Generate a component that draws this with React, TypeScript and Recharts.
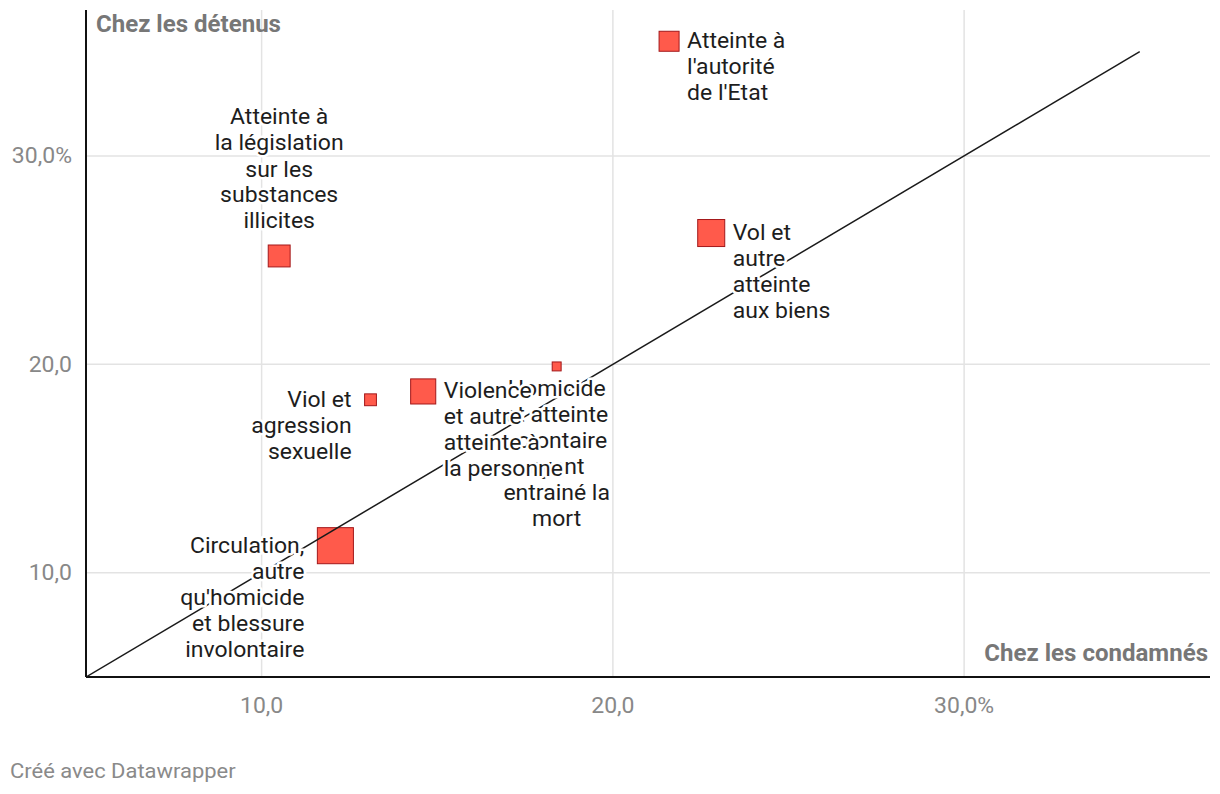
import {
  CartesianGrid,
  Scatter,
  ScatterChart,
  XAxis,
  YAxis,
  ZAxis,
} from "recharts";

// share of each offence, among convicted people (x) and among detainees (y), in %
const categories = [
  "Atteinte à l'autorité de l'Etat",
  "Atteinte à la législation sur les substances illicites",
  "Vol et autre atteinte aux biens",
  "Homicide et atteinte volontaire ayant entrainé la mort",
  "Viol et agression sexuelle",
  "Violence et autre atteinte à la personne",
  "Circulation, autre qu'homicide et blessure involontaire",
];
const condamnes = [21.6, 10.5, 22.8, 18.4, 13.1, 14.6, 12.1];
const detenus = [35.5, 25.2, 26.3, 19.9, 18.3, 18.7, 11.3];
const poids = [4.0, 4.8, 7.3, 0.8, 1.4, 6.3, 13.0];

const diagonal = [5, 35];
const ticks = [10, 20, 30];

// how each label is wrapped and where it sits next to its square
const labelLayout: Record<string, { side: "left" | "right" | "top" | "bottom"; lines: string[] }> = {
  [categories[0]]: { side: "right", lines: ["Atteinte à", "l'autorité", "de l'Etat"] },
  [categories[1]]: {
    side: "top",
    lines: ["Atteinte à", "la législation", "sur les", "substances", "illicites"],
  },
  [categories[2]]: { side: "right", lines: ["Vol et", "autre", "atteinte", "aux biens"] },
  [categories[3]]: {
    side: "bottom",
    lines: ["Homicide", "et atteinte", "volontaire", "ayant", "entrainé la", "mort"],
  },
  [categories[4]]: { side: "left", lines: ["Viol et", "agression", "sexuelle"] },
  [categories[5]]: { side: "right", lines: ["Violence", "et autre", "atteinte à", "la personne"] },
  [categories[6]]: {
    side: "left",
    lines: ["Circulation,", "autre", "qu'homicide", "et blessure", "involontaire"],
  },
};

const points = categories.map((name, i) => ({
  name,
  x: condamnes[i],
  y: detenus[i],
  z: poids[i],
}));
const diagonalPoints = diagonal.map((v) => ({ x: v, y: v }));

const FONT = "Roboto, 'Noto Sans', sans-serif";
const LINE_H = 26;
const LABEL_SIZE = 22;
const STRETCH = 1.045; // text in the original is set slightly wide

const stretchAt = (x: number) => `translate(${x},0) scale(${STRETCH},1) translate(${-x},0)`;

const formatTick = (v: number) => (v === 30 ? "30,0%" : `${v},0`);

const sideOf = (size?: number) => Math.sqrt(size && size > 0 ? size : 64);

const SquareShape = (props: any) => {
  const { cx, cy, size } = props;
  const s = sideOf(size);
  return (
    <rect
      x={cx - s / 2}
      y={cy - s / 2}
      width={s}
      height={s}
      fill="#ff5a4b"
      stroke="#a3181a"
      strokeWidth={1}
    />
  );
};

const LabelShape = (props: any) => {
  const { cx, cy, size, payload } = props;
  const layout = labelLayout[payload.name];
  if (!layout) return <g />;
  const half = sideOf(size) / 2;
  const n = layout.lines.length;
  let x = cx;
  let y0 = cy + 7;
  let anchor: "start" | "end" | "middle" = "middle";
  if (layout.side === "right") {
    x = cx + half + 8;
    anchor = "start";
  } else if (layout.side === "left") {
    x = cx - half - 13;
    anchor = "end";
  } else if (layout.side === "top") {
    y0 = cy - half - 16.5 - (n - 1) * LINE_H;
  } else {
    y0 = cy + half + 25.5;
  }
  return (
    <text
      textAnchor={anchor}
      transform={stretchAt(x)}
      fontFamily={FONT}
      fontSize={LABEL_SIZE}
      fill="#1d1d1d"
      stroke="#fff"
      strokeWidth={5}
      strokeLinejoin="round"
      paintOrder="stroke"
    >
      {layout.lines.map((line, i) => (
        <tspan key={i} x={x} y={y0 + i * LINE_H}>
          {line}
        </tspan>
      ))}
    </text>
  );
};

const AxisTick = (props: any) => {
  const { x, y, payload, textAnchor, orientation } = props;
  return (
    <text
      x={x}
      y={y}
      dy={orientation === "bottom" ? "0.71em" : "0.34em"}
      textAnchor={textAnchor}
      transform={stretchAt(x)}
      fill="#888"
      fontSize={22}
      fontFamily={FONT}
    >
      {formatTick(payload.value)}
    </text>
  );
};

const titleStyle = {
  position: "absolute" as const,
  fontSize: 23,
  lineHeight: "23px",
  fontWeight: 700,
  color: "#777",
  whiteSpace: "nowrap" as const,
  transform: `scaleX(${STRETCH})`,
};

export default function App() {
  return (
    <div
      style={{
        position: "absolute",
        left: 0,
        top: 0,
        width: 1220,
        height: 794,
        background: "#fff",
        fontFamily: FONT,
      }}
    >
      <ScatterChart width={1220} height={740} margin={{ top: 10, right: 10, bottom: 13, left: 0 }}>
        <CartesianGrid stroke="#e3e3e3" strokeWidth={1.5} horizontalValues={ticks} verticalValues={ticks} />
        <XAxis
          type="number"
          dataKey="x"
          domain={[5, 37]}
          ticks={ticks}
          allowDataOverflow
          tickLine={false}
          tickMargin={14}
          height={50}
          axisLine={{ stroke: "#111", strokeWidth: 2 }}
          tick={<AxisTick orientation="bottom" />}
        />
        <YAxis
          type="number"
          dataKey="y"
          domain={[5, 37]}
          ticks={ticks}
          allowDataOverflow
          tickLine={false}
          tickMargin={8}
          width={86}
          axisLine={{ stroke: "#111", strokeWidth: 2 }}
          tick={<AxisTick orientation="left" />}
        />
        <ZAxis type="number" dataKey="z" domain={[0, 13]} range={[0, 1300]} />
        <Scatter data={points} shape={SquareShape} isAnimationActive={false} />
        <Scatter
          data={diagonalPoints}
          line={{ stroke: "#1a1a1a", strokeWidth: 1.5 }}
          shape={() => <g />}
          isAnimationActive={false}
        />
        <Scatter data={points} shape={LabelShape} isAnimationActive={false} />
      </ScatterChart>
      <div style={{ ...titleStyle, left: 96, top: 13, transformOrigin: "left" }}>Chez les détenus</div>
      <div style={{ ...titleStyle, right: 12, top: 642, transformOrigin: "right" }}>
        Chez les condamnés
      </div>
      <div
        style={{
          position: "absolute",
          left: 10,
          top: 761,
          fontSize: 21,
          lineHeight: "21px",
          color: "#8a8a8a",
          whiteSpace: "nowrap",
          transform: `scaleX(${STRETCH})`,
          transformOrigin: "left",
        }}
      >
        Créé avec Datawrapper
      </div>
    </div>
  );
}
